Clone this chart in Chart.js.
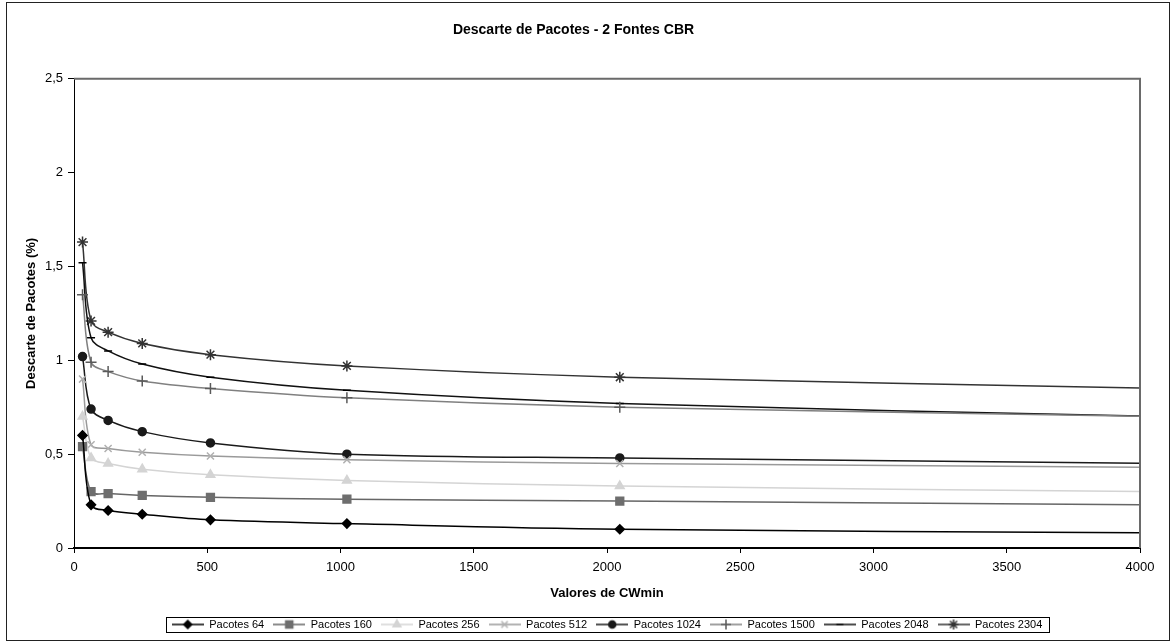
<!DOCTYPE html>
<html>
<head>
<meta charset="utf-8">
<script src="https://cdn.jsdelivr.net/npm/chart.js@4.4.0/dist/chart.umd.min.js"></script>
<style>
    body { margin: 0; background: #fff; }
    #moldura { position: absolute; left: 6px; top: 2px; width: 1162px; height: 637px; border: 1px solid #222; }
    canvas { display: block; }
</style>
</head>
<body>
<div id="moldura"><canvas id="graficoDescarte" width="1162" height="637"></canvas></div>
<script>
// ---- valores de CWmin (eixo x) e descarte (%) de cada tamanho de pacote
const valoresCWmin = [32, 64, 128, 256, 512, 1024, 2048, 4096];

const pacotes64   = [0.60, 0.23, 0.20, 0.18, 0.15, 0.13, 0.10, 0.08];
const pacotes160  = [0.54, 0.30, 0.29, 0.28, 0.27, 0.26, 0.25, 0.23];
const pacotes256  = [0.70, 0.48, 0.45, 0.42, 0.39, 0.36, 0.33, 0.30];
const pacotes512  = [0.90, 0.55, 0.53, 0.51, 0.49, 0.47, 0.45, 0.43];
const pacotes1024 = [1.02, 0.74, 0.68, 0.62, 0.56, 0.50, 0.48, 0.45];
const pacotes1500 = [1.35, 0.99, 0.94, 0.89, 0.85, 0.80, 0.75, 0.70];
const pacotes2048 = [1.52, 1.12, 1.05, 0.98, 0.91, 0.84, 0.77, 0.70];
const pacotes2304 = [1.63, 1.21, 1.15, 1.09, 1.03, 0.97, 0.91, 0.85];

const nomesSeries = ['Pacotes 64', 'Pacotes 160', 'Pacotes 256', 'Pacotes 512',
                     'Pacotes 1024', 'Pacotes 1500', 'Pacotes 2048', 'Pacotes 2304'];
const valoresSeries = [pacotes64, pacotes160, pacotes256, pacotes512,
                       pacotes1024, pacotes1500, pacotes2048, pacotes2304];

// estilo de cada série (cor da linha, marcador)
const estilos = [
    { linha: '#000000', marcador: 'rectRot',  fundo: '#000000', borda: '#000000', raio: 4.5 },
    { linha: '#666666', marcador: 'rect',     fundo: '#6e6e6e', borda: '#6e6e6e', raio: 5.5 },
    { linha: '#d4d4d4', marcador: 'triangle', fundo: '#d4d4d4', borda: '#d4d4d4', raio: 5 },
    { linha: '#9a9a9a', marcador: 'crossRot', fundo: '#b0b0b0', borda: '#b0b0b0', raio: 5 },
    { linha: '#1a1a1a', marcador: 'circle',   fundo: '#1a1a1a', borda: '#1a1a1a', raio: 4 },
    { linha: '#808080', marcador: 'cross',    fundo: '#5a5a5a', borda: '#5a5a5a', raio: 5.5 },
    { linha: '#111111', marcador: 'line',     fundo: '#000000', borda: '#000000', raio: 4 },
    { linha: '#333333', marcador: 'star',     fundo: '#333333', borda: '#333333', raio: 5.5 }
];

const fonte = "'Liberation Sans', Arial, sans-serif";

// desenha o ícone da legenda (linha com o marcador no meio)
function iconeLegenda(est) {
    const c = document.createElement('canvas');
    c.width = 32; c.height = 14;
    const g = c.getContext('2d');
    g.strokeStyle = est.linha;
    g.lineWidth = 1.5;
    g.beginPath(); g.moveTo(0, 7); g.lineTo(32, 7); g.stroke();
    g.fillStyle = est.fundo;
    g.strokeStyle = est.borda;
    g.lineWidth = 1.5;
    Chart.helpers.drawPoint(g, { pointStyle: est.marcador, radius: est.raio - 0.5, borderWidth: 1.5, rotation: 0 }, 16, 7);
    return c;
}

const conjuntos = nomesSeries.map((nome, i) => ({
    label: nome,
    data: valoresCWmin.map((x, j) => ({ x: x, y: valoresSeries[i][j] })),
    borderColor: estilos[i].linha,
    borderWidth: 1.5,
    pointStyle: estilos[i].marcador,
    pointRadius: estilos[i].raio,
    pointBackgroundColor: estilos[i].fundo,
    pointBorderColor: estilos[i].borda,
    pointBorderWidth: 1.5,
    tension: 0.35,
    fill: false
}));

// moldura da área do gráfico (topo e direita) e caixa da legenda
const molduras = {
    id: 'molduras',
    afterDatasetsDraw(chart) {
        const { ctx, chartArea: a } = chart;
        ctx.save();
        ctx.strokeStyle = '#6a6a6a';
        ctx.lineWidth = 2;
        ctx.beginPath();
        ctx.moveTo(a.left, a.top);
        ctx.lineTo(a.right, a.top);
        ctx.lineTo(a.right, a.bottom);
        ctx.stroke();
        ctx.restore();
    },
    afterDraw(chart) {
        const caixas = chart.legend.legendHitBoxes;
        if (!caixas || !caixas.length) return;
        const esq = Math.min(...caixas.map(b => b.left));
        const dir = Math.max(...caixas.map(b => b.left + b.width));
        const topo = Math.min(...caixas.map(b => b.top));
        const base = Math.max(...caixas.map(b => b.top + b.height));
        const ctx = chart.ctx;
        ctx.save();
        ctx.strokeStyle = '#000';
        ctx.lineWidth = 1;
        ctx.strokeRect(Math.round(esq - 6) + 0.5, Math.round(topo - 2) + 0.5, Math.round(dir - esq + 12), Math.round(base - topo + 4));
        ctx.restore();
    }
};

const ctx = document.getElementById('graficoDescarte').getContext('2d');
const graficoDescarte = new Chart(ctx, {
    type: 'line',
    data: { datasets: conjuntos },
    plugins: [molduras],
    options: {
        responsive: false,
        animation: false,
        devicePixelRatio: 1,
        layout: { padding: { left: 0, right: 29, top: 0, bottom: 0 } },
        plugins: {
            title: {
                display: true,
                text: 'Descarte de Pacotes - 2 Fontes CBR',
                color: '#000',
                font: { family: fonte, size: 14, weight: 'bold' },
                padding: { top: 19, bottom: 40 }
            },
            legend: {
                position: 'bottom',
                fullSize: false,
                labels: {
                    usePointStyle: true,
                    pointStyleWidth: 32,
                    padding: 9,
                    color: '#000',
                    font: { family: fonte, size: 11 },
                    generateLabels: (chart) => chart.data.datasets.map((ds, i) => ({
                        text: ds.label,
                        pointStyle: iconeLegenda(estilos[i]),
                        fillStyle: 'transparent',
                        strokeStyle: 'transparent',
                        lineWidth: 0,
                        fontColor: '#000',
                        datasetIndex: i
                    }))
                }
            },
            tooltip: { enabled: false }
        },
        scales: {
            x: {
                type: 'linear',
                min: 0,
                max: 4000,
                afterFit: (escala) => { escala.height = 62; },
                ticks: { stepSize: 500, color: '#000', padding: 7, maxRotation: 0,
                         font: { family: fonte, size: 13 },
                         callback: (v) => String(v) },
                grid: { display: true, drawOnChartArea: false, drawTicks: true, tickLength: 5, color: '#000' },
                border: { display: true, color: '#000', width: 2 },
                title: { display: true, text: 'Valores de CWmin', color: '#000',
                         font: { family: fonte, size: 13, weight: 'bold' },
                         padding: { top: 0, bottom: 9 } }
            },
            y: {
                min: 0,
                max: 2.5,
                afterFit: (escala) => { escala.width = 67; },
                ticks: { stepSize: 0.5, color: '#000', padding: 5,
                         font: { family: fonte, size: 13 },
                         callback: (v) => String(v).replace('.', ',') },
                grid: { display: true, drawOnChartArea: false, drawTicks: true, tickLength: 6, color: '#000' },
                border: { display: true, color: '#000', width: 1 },
                title: { display: true, text: 'Descarte de Pacotes (%)', color: '#000',
                         font: { family: fonte, size: 13, weight: 'bold' },
                         padding: { top: 17, bottom: 0 } }
            }
        }
    }
});
</script>
</body>
</html>
